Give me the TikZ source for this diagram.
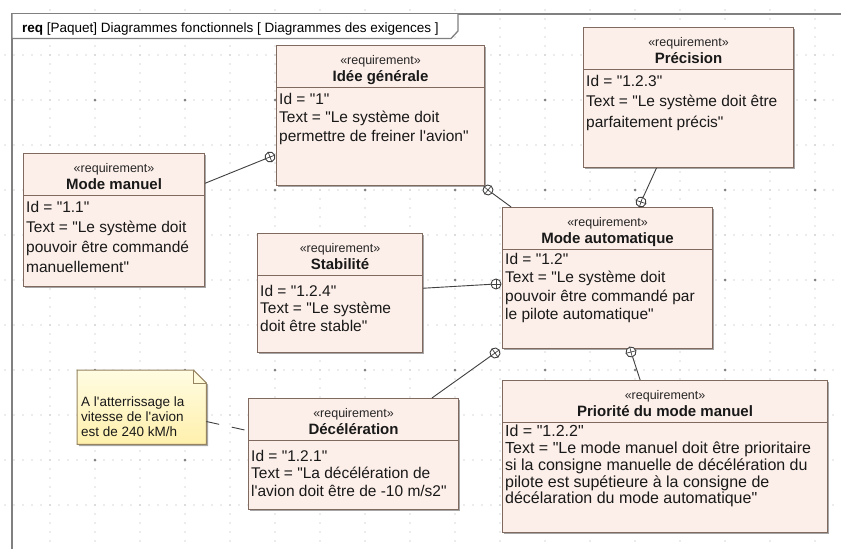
\documentclass[tikz,border=0pt]{standalone}
\usepackage{fontspec}
\setmainfont{Liberation Sans}[Ligatures=TeXOff]
\usetikzlibrary{positioning,shadows}

\definecolor{reqfill}{RGB}{252,238,232}
\definecolor{reqdraw}{RGB}{128,106,96}
\definecolor{notetop}{RGB}{255,252,226}
\definecolor{notebot}{RGB}{255,240,172}
\definecolor{notedrawc}{RGB}{150,132,96}
\definecolor{gridgray}{RGB}{175,175,175}
\definecolor{framegray}{RGB}{128,128,128}

\tikzset{
  gridline/.style={gridgray, line width=1.1pt, line cap=round, dash pattern=on 0pt off 9pt},
  frameline/.style={framegray, line width=1.3pt},
  tabtext/.style={font=\fontsize{13.5}{15}\selectfont, inner sep=0pt, anchor=base west},
  reqbox/.style={draw=reqdraw, fill=reqfill, line width=1.1pt, anchor=north west, inner sep=0pt,
    drop shadow={shadow xshift=1.8pt, shadow yshift=-1.8pt, opacity=.35, fill=black}},
  reqdiv/.style={reqdraw, line width=1pt},
  stereo/.style={font=\fontsize{12.5}{14}\selectfont, inner sep=0pt, anchor=base, text=black!85},
  reqname/.style={font=\fontsize{15}{17}\selectfont\bfseries, inner sep=0pt, anchor=base, text=black!90},
  reqtext/.style={font=\fontsize{15.5}{18.5}\selectfont, align=left, inner sep=0pt, text=black!90},
  contain/.style={black!75, line width=.9pt},
  plus/.style={circle, draw=black!75, line width=.9pt, fill=white, minimum size=10pt, inner sep=0pt},
  notebox/.style={anchor=north west, inner sep=0pt},
  notedraw/.style={draw=notedrawc, line width=1pt, top color=notetop, bottom color=notebot},
  notetext/.style={font=\fontsize{13.5}{15}\selectfont, align=left, inner sep=0pt, text=black!90},
  notelink/.style={black!75, line width=.9pt, dash pattern=on 13pt off 13pt}
}

\begin{document}
\begin{tikzpicture}[x=1pt,y=-1pt]
  \clip (0,0) rectangle (841,549);
  \fill[white] (0,0) rectangle (841,549);

  \foreach \y in {55,100,...,505} \draw[gridline] (5,\y) -- (841,\y);
  \foreach \x in {50,95,...,815} \draw[gridline] (\x,10) -- (\x,549);
  \foreach \x in {95,185,...,815} \foreach \y in {100,190,...,460}
    \fill[gridgray!75!black] (\x,\y) circle (1.5pt);

  \draw[frameline] (12,549) -- (12,14) -- (841,14);
  \draw[frameline, fill=white] (12,14) -- (12,38.5) -- (451,38.5) -- (458,31) -- (458,14);
  \node[tabtext] (title) at (22,32) {\textbf{req} [Paquet] Diagrammes fonctionnels [ Diagrammes des exigences ]};

  \node[reqbox, minimum width=208, minimum height=140] (idee) at (276,45) {};
  \node[reqbox, minimum width=210, minimum height=140] (precis) at (583,27) {};
  \node[reqbox, minimum width=181, minimum height=133] (manuel) at (23,153) {};
  \node[reqbox, minimum width=210, minimum height=141] (automat) at (502,207) {};
  \node[reqbox, minimum width=165, minimum height=119] (stab) at (257,233) {};
  \node[reqbox, minimum width=210, minimum height=111] (decel) at (248,398) {};
  \node[reqbox, minimum width=325, minimum height=152] (prio) at (502,380) {};

  \foreach \b/\t in {idee/Idée générale, precis/Précision, manuel/Mode manuel,
      automat/Mode automatique, stab/Stabilité, decel/Décélération, prio/Priorité du mode manuel}{
    \draw[reqdiv] ([yshift=-42pt]\b.north west) -- ([yshift=-42pt]\b.north east);
    \node[stereo] (\b-st) at ([yshift=-19pt]\b.north) {«requirement»};
    \node[reqname] (\b-nm) at ([yshift=-36.5pt]\b.north) {\t};
  }

  \node[reqtext, below right=48pt and 3pt of idee.north west] (idee-tx)
    {Id = "1"\\Text = "Le système doit\\permettre de freiner l'avion"};
  \node[reqtext, below right=48pt and 3pt of precis.north west, font=\fontsize{15.5}{20.5}\selectfont] (precis-tx)
    {Id = "1.2.3"\\Text = "Le système doit être\\parfaitement précis"};
  \node[reqtext, below right=48pt and 3pt of manuel.north west, font=\fontsize{15.5}{20}\selectfont] (manuel-tx)
    {Id = "1.1"\\Text = "Le système doit\\pouvoir être commandé\\manuellement"};
  \node[reqtext, below right=46pt and 3pt of automat.north west] (automat-tx)
    {Id = "1.2"\\Text = "Le système doit\\pouvoir être commandé par\\le pilote automatique"};
  \node[reqtext, below right=52pt and 3pt of stab.north west, font=\fontsize{15.5}{17.5}\selectfont] (stab-tx)
    {Id = "1.2.4"\\Text = "Le système\\doit être stable"};
  \node[reqtext, below right=52pt and 3pt of decel.north west, font=\fontsize{15.5}{17.5}\selectfont] (decel-tx)
    {Id = "1.2.1"\\Text = "La décélération de\\l'avion doit être de -10 m/s2"};
  \node[reqtext, below right=45pt and 3pt of prio.north west, font=\fontsize{16}{16.8}\selectfont] (prio-tx)
    {Id = "1.2.2"\\Text = "Le mode manuel doit être prioritaire\\si la consigne manuelle de décélération du\\pilote est supétieure à la consigne de\\décélaration du mode automatique"};

  \node[plus, rotate=21] (c-manuel) at (270,157) {};
  \node[plus, rotate=-39] (c-automat) at (488,190) {};
  \node[plus, rotate=71] (c-precis) at (641,202) {};
  \node[plus] (c-stab) at (496,284) {};
  \node[plus, rotate=36] (c-decel) at (495,353) {};
  \node[plus, rotate=-76] (c-prio) at (631,352) {};
  \foreach \b in {manuel,automat,precis,stab,decel,prio}{
    \draw[contain] (c-\b) -- (\b);
    \draw[contain, line width=.7pt] (c-\b.north) -- (c-\b.south) (c-\b.east) -- (c-\b.west);
  }

  \node[notebox, minimum width=129, minimum height=74] (note) at (77,370) {};
  \path[notedraw, drop shadow={shadow xshift=1.8pt, shadow yshift=-1.8pt, opacity=.35, fill=black}]
    (note.north west) -- ([xshift=-13pt]note.north east) -- ([yshift=-13pt]note.north east)
    -- (note.south east) -- (note.south west) -- cycle;
  \draw[notedrawc, line width=1pt] ([xshift=-13pt]note.north east) |- ([yshift=-13pt]note.north east);
  \node[notetext, below right=27pt and 4pt of note.north west] (note-tx)
    {A l'atterrissage la\\vitesse de l'avion\\est de 240 kM/h};
  \draw[notelink] (note) -- (decel);
\end{tikzpicture}
\end{document}
